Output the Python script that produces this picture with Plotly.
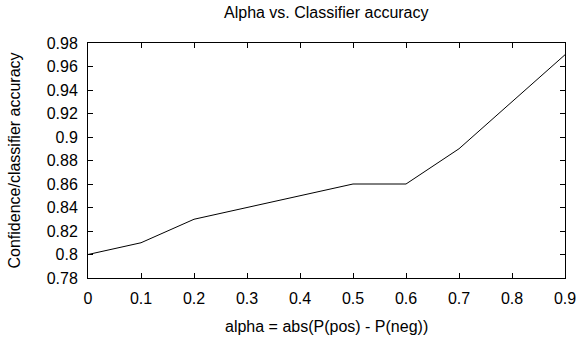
import plotly.graph_objects as go

alpha = [0, 0.1, 0.2, 0.3, 0.4, 0.5, 0.6, 0.7, 0.8, 0.9]
accuracy = [0.80, 0.81, 0.83, 0.84, 0.85, 0.86, 0.86, 0.89, 0.93, 0.97]

title_text = "Alpha vs. Classifier accuracy"
x_title = "alpha = abs(P(pos) - P(neg))"
y_title = "Confidence/classifier accuracy"

font = "Liberation Sans, Arial, sans-serif"
W, H = 579, 338
L, R, T, B = 88, 14, 43, 60
pw = W - L - R
ph = H - T - B


def yfrac(ypix):
    return (H - B - ypix) / ph


def xfrac(xpix):
    return (xpix - L) / pw


fig = go.Figure()
fig.add_trace(go.Scatter(x=alpha, y=accuracy, mode="lines",
                         line=dict(color="black", width=1), showlegend=False,
                         hoverinfo="skip"))

axis_common = dict(
    showgrid=False, zeroline=False, showline=True, linecolor="black", linewidth=1,
    mirror="ticks", ticks="inside", ticklen=5, tickcolor="black", tickwidth=1,
    tickfont=dict(family=font, size=16, color="black"), automargin=False,
    ticklabelstandoff=6,
)

fig.update_layout(
    width=W, height=H,
    margin=dict(l=L, r=R, t=T, b=B, autoexpand=False),
    paper_bgcolor="white", plot_bgcolor="white",
    xaxis=dict(range=[0, 0.9], dtick=0.1, tick0=0, **axis_common),
    yaxis=dict(range=[0.78, 0.98], dtick=0.02, tick0=0.78, **axis_common),
)

fig.add_annotation(text=title_text, xref="paper", yref="paper", x=xfrac(326.5), y=yfrac(12.5),
                   xanchor="center", yanchor="middle", showarrow=False,
                   font=dict(family=font, size=16, color="black"))
fig.add_annotation(text=x_title, xref="paper", yref="paper", x=xfrac(326.5), y=yfrac(326.5),
                   xanchor="center", yanchor="middle", showarrow=False,
                   font=dict(family=font, size=16, color="black"))
fig.add_annotation(text=y_title, xref="paper", yref="paper", x=xfrac(13.5), y=yfrac(161),
                   xanchor="center", yanchor="middle", showarrow=False, textangle=-90,
                   font=dict(family=font, size=16, color="black"))

fig.write_html("out.html", config={"displayModeBar": False},
               post_script="document.body.style.margin='0';")
